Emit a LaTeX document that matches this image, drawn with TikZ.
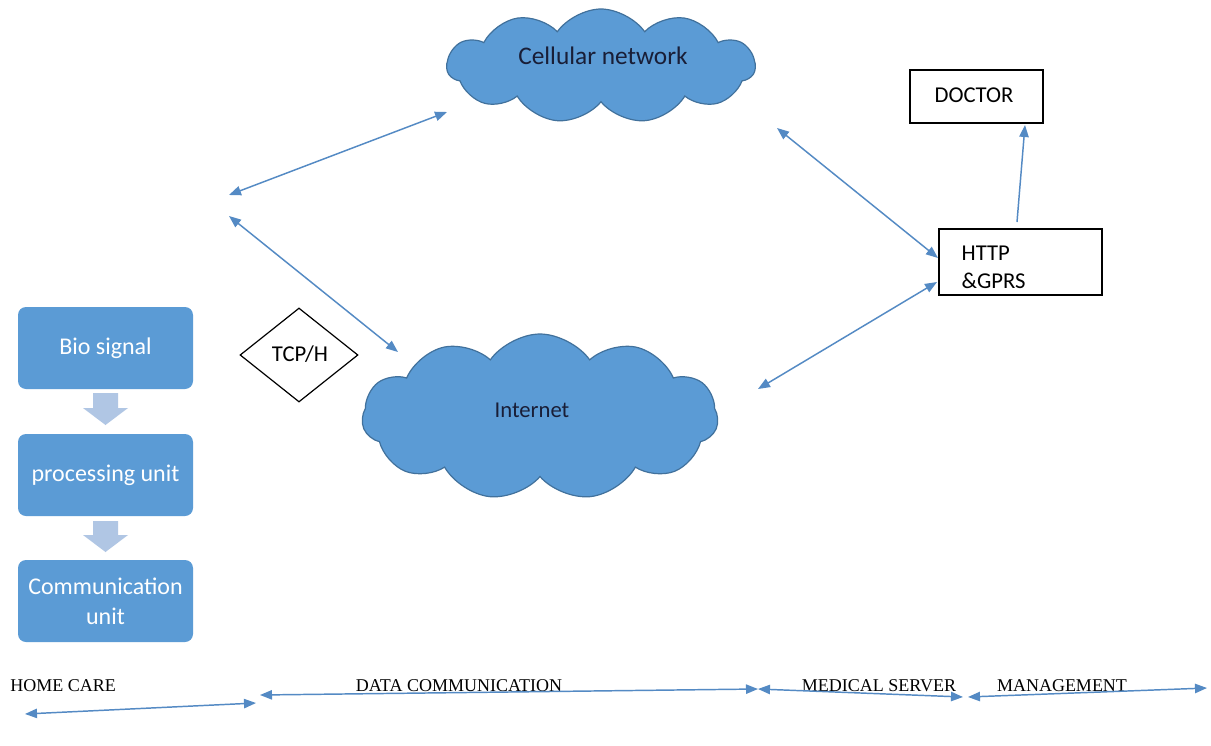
\documentclass[tikz,border=0pt]{standalone}
\usepackage{fontspec}
\setmainfont{Carlito}
\newfontfamily\serifbot{Liberation Serif}
\usetikzlibrary{shapes.symbols,shapes.geometric,arrows.meta}
\definecolor{cloudfill}{RGB}{91,155,213}
\definecolor{clouddraw}{RGB}{65,113,156}
\definecolor{boxfill}{RGB}{91,155,213}
\definecolor{arrowc}{RGB}{84,138,196}
\definecolor{blockc}{RGB}{176,198,228}
\definecolor{darktext}{RGB}{25,30,55}
\tikzset{
  cloudnode/.style={cloud, cloud puffs=11, cloud puff arc=110, cloud ignores aspect, fill=cloudfill, draw=clouddraw, line width=0.9pt, inner sep=0pt},
  bluebox/.style={rounded corners=6pt, fill=boxfill, draw=none, minimum width=0.75pt*175, minimum height=0.75pt*82, text=white, align=center, font=\fontsize{18}{22.5}\selectfont},
  plainbox/.style={draw=black, line width=0.9pt, fill=white},
  lbl/.style={font=\fontsize{17}{21}\selectfont, text=darktext},
  botlbl/.style={font=\serifbot\fontsize{13.5}{15}\selectfont, text=black, inner sep=0pt},
  link/.style={draw=arrowc, line width=1.1pt, {Triangle[length=9pt,width=7pt]}-{Triangle[length=9pt,width=7pt]}},
  onelink/.style={draw=arrowc, line width=1.1pt, -{Triangle[length=9pt,width=7pt]}},
  blockarrow/.style={fill=blockc, draw=none}
}
\begin{document}
\begin{tikzpicture}[x=0.75pt,y=-0.75pt]
\useasboundingbox[fill=white] (0,0) rectangle (1211,746);

% clouds
\node[cloudnode, minimum width=0.75pt*308, minimum height=0.75pt*114] (cell) at (601,66) {};
\node[lbl, font=\fontsize{19}{23}\selectfont] (celltxt) at (603,56) {Cellular network};
\node[cloudnode, minimum width=0.75pt*356, minimum height=0.75pt*166] (inet) at (540,417) {};
\node[lbl] (inettxt) at (532,410) {Internet};

% boxes on right
\node[plainbox, minimum width=0.75pt*133, minimum height=0.75pt*53] (doctor) at (976.5,96.5) {};
\node[lbl, text=black] (doctortxt) at (974,95) {DOCTOR};
\node[plainbox, minimum width=0.75pt*163, minimum height=0.75pt*66] (http) at (1020.5,262) {};
\node[lbl, text=black, align=left, anchor=west, font=\fontsize{17}{21}\selectfont] (httptxt) at (957,267) {HTTP\\\&GPRS};

% diamond
\node[diamond, draw=black, line width=0.9pt, fill=white, minimum width=0.75pt*118, minimum height=0.75pt*94, inner sep=0pt] (tcp) at (299,355) {};
\node[lbl, text=black] (tcptxt) at (300,354) {TCP/H};

% left column
\node[bluebox] (bio) at (105.5,348) {Bio signal};
\node[bluebox] (proc) at (105.5,475) {processing unit};
\node[bluebox] (comm) at (105.5,601) {Communication\\unit};

% block arrows
\fill[blockarrow] (93,393) -- (118,393) -- (118,408) -- (128,408) -- (105.5,425) -- (83,408) -- (93,408) -- cycle;
\fill[blockarrow] (93,521) -- (118,521) -- (118,535) -- (128,535) -- (105.5,552) -- (83,535) -- (93,535) -- cycle;

% free ends of connectors
\coordinate (hubA) at (229,195);
\coordinate (hubB) at (229,216);
\coordinate (cellL) at (447,112);
\coordinate (inetT) at (398,352);
\coordinate (cellR) at (777,128);
\coordinate (httpA) at (938,258);
\coordinate (inetR) at (758,389);
\coordinate (httpB) at (937,282);
\coordinate (docS) at (1017,222);
\coordinate (docT) at (1025,125);

\draw[link] (hubA) -- (cellL);
\draw[link] (hubB) -- (inetT);
\draw[link] (cellR) -- (httpA);
\draw[link] (inetR) -- (httpB);
\draw[onelink] (docS) -- (docT);

% bottom scale
\node[botlbl, anchor=west] (home) at (10,686) {HOME CARE};
\node[botlbl] (data) at (459,686) {DATA COMMUNICATION};
\node[botlbl] (med) at (879,686) {MEDICAL SERVER};
\node[botlbl] (mgmt) at (1062,686) {MANAGEMENT};

\coordinate (b1) at (25,714);
\coordinate (b2) at (256,703);
\coordinate (b3) at (260,695);
\coordinate (b4) at (758,689);
\coordinate (b5) at (758,689);
\coordinate (b6) at (963,697);
\coordinate (b7) at (968,697);
\coordinate (b8) at (1207,688);
\draw[link] (b1) -- (b2);
\draw[link] (b3) -- (b4);
\draw[link] (b5) -- (b6);
\draw[link] (b7) -- (b8);
\end{tikzpicture}
\end{document}
